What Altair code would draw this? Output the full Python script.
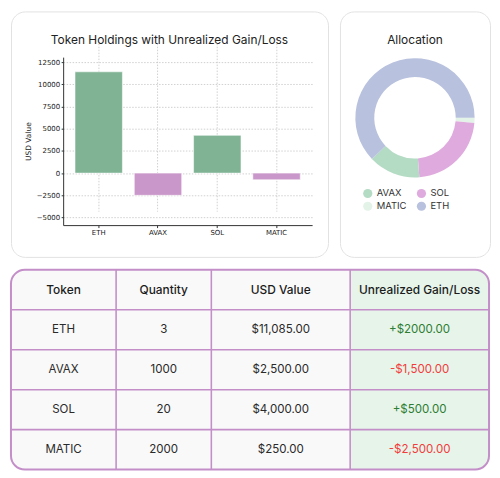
import math
import altair as alt
import pandas as pd

# ---------------- data ----------------
tokens = ["ETH", "AVAX", "SOL", "MATIC"]
bar_values = [11400, -2500, 4250, -750]
y_ticks = [-5000, -2500, 0, 2500, 5000, 7500, 10000, 12500]

quantities = ["3", "1000", "20", "2000"]
usd_values = [11085.00, 2500.00, 4000.00, 250.00]
usd_labels = ["$11,085.00", "$2,500.00", "$4,000.00", "$250.00"]
gain_labels = ["+$2000.00", "-$1,500.00", "+$500.00", "-$2,500.00"]
gain_sign = ["gain", "loss", "gain", "loss"]
table_headers = ["Token", "Quantity", "USD Value", "Unrealized Gain/Loss"]

legend_order = ["AVAX", "MATIC", "SOL", "ETH"]   # legend fills column by column
legend_colors = ["#b4dbc4", "#e3f3e8", "#dfaadd", "#b8c1dd"]
pie_order = ["MATIC", "SOL", "AVAX", "ETH"]  # clockwise from 3 o'clock

# ---------------- layout (not data) ----------------
FONT = "Inter"
AX_FONT = "DejaVu Sans"
BAR_W, BAR_H = 319, 247
PIE_W = 151
TAB_W, TAB_H = 481, 201
PLOT_X = [52.5, 303]
PLOT_Y = [215, 46]
Y_DOMAIN = [-5850, 13050]
COL_W = [106, 96, 140, 140]
PURPLE = "#c48fc9"
TITLE_OFFSET = -41

# ---------------- bar chart card ----------------
bar_df = pd.DataFrame({
    "token": tokens,
    "value": bar_values,
    "sign": ["gain" if v >= 0 else "loss" for v in bar_values],
})

bar = alt.Chart(bar_df).mark_bar(stroke="#ffffff", strokeWidth=0.8, strokeOpacity=0.7).encode(
    x=alt.X("token:N", sort=tokens,
            scale=alt.Scale(range=PLOT_X, paddingInner=0.2, paddingOuter=0.2),
            axis=alt.Axis(title=None, orient="bottom", offset=PLOT_Y[0] - BAR_H,
                          labelAngle=0, grid=True, bandPosition=0.5,
                          gridColor="#bdbdbd", gridDash=[1.5, 1.5], gridWidth=0.7,
                          domainColor="#333333", domainWidth=1, tickColor="#333333",
                          tickSize=2.5, labelPadding=1, labelFont=AX_FONT,
                          labelFontSize=7, labelColor="#222222")),
    y=alt.Y("value:Q",
            scale=alt.Scale(domain=Y_DOMAIN, range=PLOT_Y, nice=False, zero=False),
            axis=alt.Axis(values=y_ticks, format="d", offset=-PLOT_X[0],
                          title="USD Value", titleFont=AX_FONT, titleFontSize=7.5,
                          titleFontWeight="normal", titleColor="#222222", titlePadding=4,
                          grid=True, gridColor="#bdbdbd", gridDash=[1.5, 1.5], gridWidth=0.7,
                          domainColor="#333333", domainWidth=1, tickColor="#333333",
                          tickSize=2, labelPadding=1.5, labelFont=AX_FONT,
                          labelFontSize=7, labelColor="#222222")),
    color=alt.Color("sign:N", scale=alt.Scale(domain=["gain", "loss"],
                                              range=["#7fb394", "#c997c9"]), legend=None),
).properties(
    width=BAR_W, height=BAR_H,
    title=alt.TitleParams("Token Holdings with Unrealized Gain/Loss", offset=TITLE_OFFSET,
                          baseline="middle", anchor="middle", font=FONT, fontSize=12,
                          fontWeight="normal", color="#222222"),
)

# ---------------- donut card ----------------
pie_df = pd.DataFrame({
    "token": pie_order,
    "value": [usd_values[tokens.index(t)] for t in pie_order],
    "order": list(range(len(pie_order))),
})

pie = alt.Chart(pie_df).mark_arc(innerRadius=41, outerRadius=60).encode(
    theta=alt.Theta("value:Q", stack=True,
                    scale=alt.Scale(range=[math.pi / 2, math.pi / 2 + 2 * math.pi])),
    order=alt.Order("order:Q"),
    color=alt.Color("token:N",
                    scale=alt.Scale(domain=legend_order, range=legend_colors),
                    legend=alt.Legend(title=None, orient="none", legendX=23, legendY=178,
                                      columns=2, symbolType="circle", symbolSize=85,
                                      symbolStrokeWidth=0, labelFont=FONT,
                                      labelFontSize=9.5, labelColor="#333333",
                                      columnPadding=10, rowPadding=3, labelOffset=4)),
    y=alt.value(107),
).properties(
    width=PIE_W, height=BAR_H,
    title=alt.TitleParams("Allocation", offset=TITLE_OFFSET, baseline="middle",
                          anchor="middle", font=FONT, fontSize=12, fontWeight="normal",
                          color="#222222"),
)

# ---------------- table card ----------------
edges = [0]
for w in COL_W:
    edges.append(edges[-1] + w)
n_rows = len(tokens) + 1

cells = []
for c, h in enumerate(table_headers):
    cells.append({"cx": (edges[c] + edges[c + 1]) / 2, "cy": 0.5, "text": h, "kind": "header"})
for r, t in enumerate(tokens):
    row = [t, quantities[r], usd_labels[r], gain_labels[r]]
    kinds = ["plain", "plain", "plain", gain_sign[r]]
    for c in range(4):
        cells.append({"cx": (edges[c] + edges[c + 1]) / 2, "cy": r + 1.5,
                      "text": row[c], "kind": kinds[c]})
cell_df = pd.DataFrame(cells)

xs = alt.Scale(domain=[edges[0], edges[-1]], nice=False, zero=False)
ys = alt.Scale(domain=[0, n_rows], range=[0, TAB_H], nice=False, zero=False)

box_df = pd.DataFrame({"x": [edges[0]], "x2": [edges[-1]], "y": [0], "y2": [n_rows]})
green_df = pd.DataFrame({"x": [edges[3]], "x2": [edges[4]], "y": [0], "y2": [n_rows]})
vline_df = pd.DataFrame({"x": edges[1:-1], "y": [0] * 3, "y2": [n_rows] * 3})
hline_df = pd.DataFrame({"y": list(range(1, n_rows)), "x": [edges[0]] * (n_rows - 1),
                         "x2": [edges[-1]] * (n_rows - 1)})

def rect_enc(ch):
    return ch.encode(x=alt.X("x:Q", scale=xs, axis=None), x2="x2:Q",
                     y=alt.Y("y:Q", scale=ys, axis=None), y2="y2:Q")

bg = rect_enc(alt.Chart(box_df).mark_rect(fill="#f9f9f9", cornerRadius=14))
green = rect_enc(alt.Chart(green_df).mark_rect(fill="#e6f4ea", cornerRadiusTopRight=14,
                                               cornerRadiusBottomRight=14))
vlines = alt.Chart(vline_df).mark_rule(color=PURPLE, strokeWidth=1.6).encode(
    x=alt.X("x:Q", scale=xs, axis=None), y=alt.Y("y:Q", scale=ys, axis=None), y2="y2:Q")
hlines = alt.Chart(hline_df).mark_rule(color=PURPLE, strokeWidth=1.6).encode(
    x=alt.X("x:Q", scale=xs, axis=None), x2="x2:Q", y=alt.Y("y:Q", scale=ys, axis=None))
border = rect_enc(alt.Chart(box_df).mark_rect(fill="transparent", stroke=PURPLE,
                                              strokeWidth=2, cornerRadius=14))

head_txt = alt.Chart(cell_df[cell_df.kind == "header"]).mark_text(
    font=FONT, fontSize=12, fontWeight=500, color="#1c1c1c").encode(
    x=alt.X("cx:Q", scale=xs, axis=None), y=alt.Y("cy:Q", scale=ys, axis=None), text="text:N")
body_txt = alt.Chart(cell_df[cell_df.kind != "header"]).mark_text(
    font=FONT, fontSize=11.6).encode(
    x=alt.X("cx:Q", scale=xs, axis=None), y=alt.Y("cy:Q", scale=ys, axis=None), text="text:N",
    color=alt.Color("kind:N", scale=alt.Scale(domain=["plain", "gain", "loss"],
                                              range=["#2a2a2a", "#2e7d32", "#f23b3b"]),
                    legend=None))

table = alt.layer(bg, green, vlines, hlines, border, head_txt, body_txt).properties(
    width=TAB_W, height=TAB_H,
    view=alt.ViewBackground(stroke="transparent", fill="transparent"),
)

top = alt.hconcat(bar, pie, spacing=10).resolve_scale(color="independent")
chart = alt.vconcat(top, table, spacing=10).resolve_scale(color="independent").properties(
    padding={"left": 1, "top": 1, "right": 1, "bottom": 1},
).configure_view(fill="#ffffff", stroke="#e2e2e2", strokeWidth=1, cornerRadius=14)

chart.save("out.html", embed_options={"renderer": "svg", "actions": False})
